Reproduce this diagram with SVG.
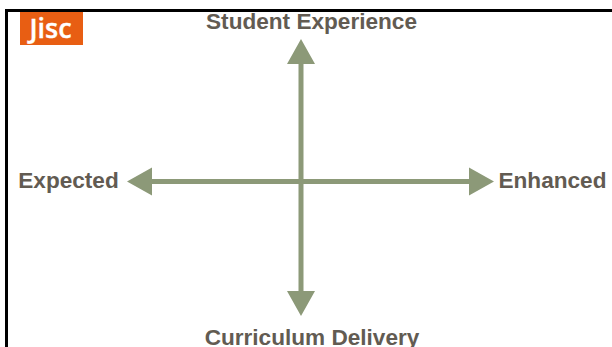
<svg xmlns="http://www.w3.org/2000/svg" width="612" height="347" viewBox="0 0 612 347">
<style>
.lbl{font-family:"Liberation Sans",Arial,sans-serif;font-weight:700;font-size:22.600px;fill:#625b52}
.arrow{fill:#8c9978}
</style>
<rect width="612" height="347" fill="#fff"/>
<path d="M6.500 347V10.500H612" fill="none" stroke="#000" stroke-width="3"/>
<g id="logo"><rect x="20" y="12" width="63" height="33" fill="#e85e13"/><text x="50.500" y="38" text-anchor="middle" font-family="'Open Sans','Liberation Sans',sans-serif" font-size="27" font-weight="600" fill="#fff" stroke="#fff" stroke-width="0.400">Jisc</text></g>
<g id="connectors">
<path class="arrow" d="M301 39L315 64H303.500V179H469V167.500L494 181.500L469 195.500V184H303.500V291H315L301 316L287 291H298.500V184H152V195.500L127 181.500L152 167.500V179H298.500V64H287Z"/>
</g>
<g id="top"><text class="lbl" x="311.500" y="28.500" text-anchor="middle">Student Experience</text></g>
<g id="left"><text class="lbl" x="68.500" y="188" text-anchor="middle">Expected</text></g>
<g id="right"><text class="lbl" x="552.500" y="188" text-anchor="middle">Enhanced</text></g>
<g id="bottom"><text class="lbl" x="312" y="345" text-anchor="middle">Curriculum Delivery</text></g>
</svg>
